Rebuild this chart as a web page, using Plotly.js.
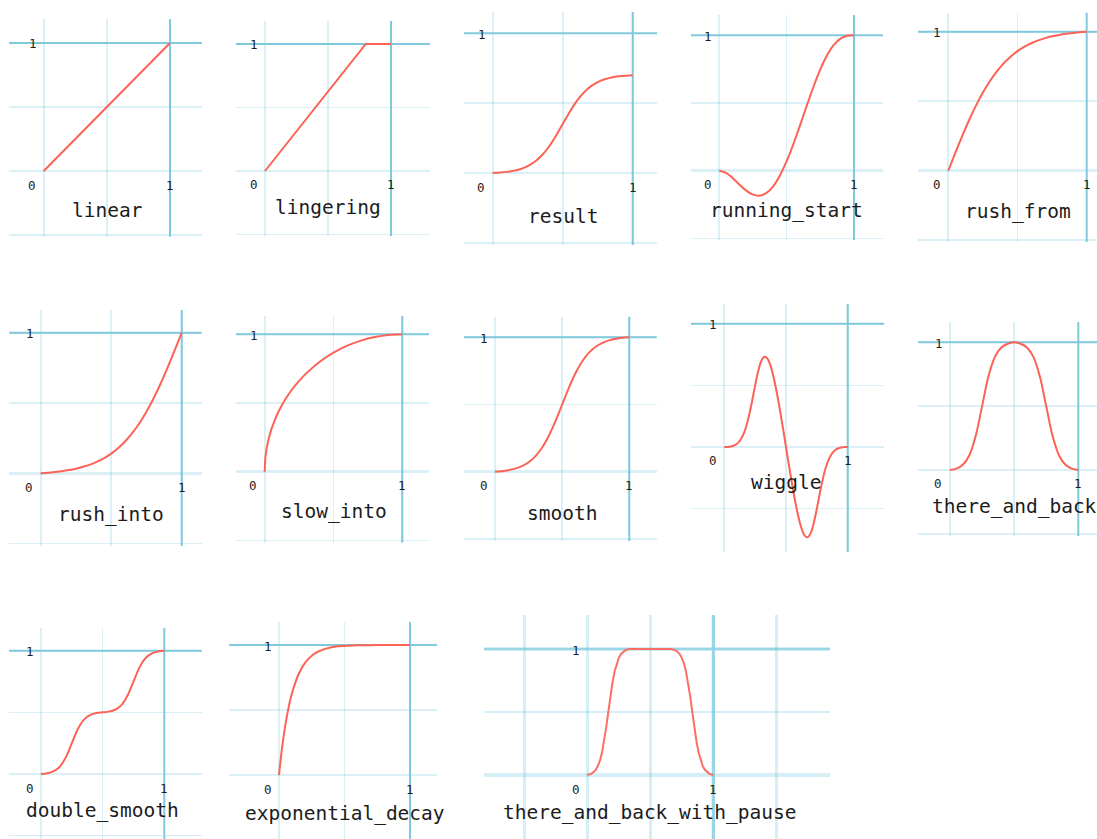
<!DOCTYPE html>
<html><head><meta charset="utf-8">
<script src="https://cdn.plot.ly/plotly-3.0.1.min.js"></script>
<style>html,body{margin:0;padding:0;background:#fff;overflow:hidden}#chart{width:1097px;height:839px}</style>
</head><body><div id="chart"></div>
<script>
// ---------- data ----------
const panelNames = ["linear","lingering","result","running_start","rush_from",
  "rush_into","slow_into","smooth","wiggle","there_and_back",
  "double_smooth","exponential_decay","there_and_back_with_pause"];

const t21 = [0,0.05,0.1,0.15,0.2,0.25,0.3,0.35,0.4,0.45,0.5,0.55,0.6,0.65,0.7,0.75,0.8,0.85,0.9,0.95,1];
const t41 = [0,0.025,0.05,0.075,0.1,0.125,0.15,0.175,0.2,0.225,0.25,0.275,0.3,0.325,0.35,0.375,0.4,0.425,0.45,0.475,0.5,
             0.525,0.55,0.575,0.6,0.625,0.65,0.675,0.7,0.725,0.75,0.775,0.8,0.825,0.85,0.875,0.9,0.925,0.95,0.975,1];

const linearX = [0,1];
const linearY = [0,1];
const lingeringX = [0,0.8,1];
const lingeringY = [0,1,1];
const resultY = [0,0.003,0.008,0.016,0.029,0.049,0.080,0.125,0.186,0.263,0.35,0.437,0.514,0.575,0.620,0.651,0.671,0.684,0.692,0.697,0.70];
const runningStartY = [0,-0.016,-0.055,-0.103,-0.147,-0.177,-0.184,-0.164,-0.115,-0.035,0.070,0.197,0.337,0.482,0.622,0.748,0.852,0.929,0.976,0.997,1];
const rushFromY = [0,0.126,0.248,0.363,0.468,0.562,0.644,0.713,0.772,0.820,0.860,0.892,0.917,0.938,0.954,0.967,0.977,0.985,0.991,0.996,1];
const rushIntoY = [0,0.004,0.009,0.015,0.023,0.033,0.046,0.062,0.083,0.108,0.140,0.180,0.228,0.287,0.356,0.438,0.532,0.637,0.752,0.874,1];
const slowIntoX = [0,0.005,0.01,0.02,0.04,0.06,0.1,0.15,0.2,0.25,0.3,0.4,0.5,0.6,0.7,0.8,0.9,1];
const slowIntoY = [0,0.100,0.141,0.199,0.280,0.341,0.436,0.527,0.600,0.661,0.714,0.800,0.866,0.917,0.954,0.980,0.995,1];
const smoothY = [0,0.004,0.011,0.023,0.041,0.070,0.114,0.178,0.266,0.376,0.5,0.624,0.734,0.822,0.886,0.930,0.959,0.977,0.989,0.996,1];
const wiggleY = [0,0.0007,0.0035,0.0104,0.024,0.0496,0.092,0.1587,0.253,0.3713,0.5,0.6164,0.698,0.7323,0.717,0.6575,0.564,0.4436,0.306,0.1557,0,
                 -0.1557,-0.306,-0.4436,-0.564,-0.6575,-0.717,-0.7323,-0.698,-0.6164,-0.5,-0.3713,-0.253,-0.1587,-0.092,-0.0496,-0.024,-0.0104,-0.0035,-0.0007,0];
const thereAndBackY = [0,0.011,0.041,0.114,0.266,0.5,0.734,0.886,0.959,0.989,1,0.989,0.959,0.886,0.734,0.5,0.266,0.114,0.041,0.011,0];
const doubleSmoothY = [0,0.006,0.021,0.057,0.133,0.25,0.367,0.443,0.479,0.494,0.5,0.506,0.521,0.557,0.633,0.75,0.867,0.943,0.979,0.994,1];
const expDecayX = [0,0.01,0.02,0.03,0.05,0.075,0.1,0.15,0.2,0.25,0.3,0.4,0.5,0.6,0.7,0.8,0.9,1];
const expDecayY = [0,0.095,0.181,0.259,0.393,0.528,0.632,0.777,0.865,0.918,0.950,0.982,0.993,0.9975,0.999,0.9997,0.9999,1];
const pauseX = [0,0.0167,0.0333,0.05,0.0667,0.0833,0.1,0.1167,0.1333,0.15,0.1667,0.1833,0.2,0.2167,0.2333,0.25,0.2667,0.2833,0.3,0.3167,0.3333,
                0.6667,0.6833,0.7,0.7167,0.7333,0.75,0.7667,0.7833,0.8,0.8167,0.8333,0.85,0.8667,0.8833,0.9,0.9167,0.9333,0.95,0.9667,0.9833,1];
const pauseY = [0,0.004,0.011,0.023,0.041,0.070,0.114,0.178,0.266,0.376,0.5,0.624,0.734,0.822,0.886,0.930,0.959,0.977,0.989,0.996,1,
                1,0.996,0.989,0.977,0.959,0.930,0.886,0.822,0.734,0.624,0.5,0.376,0.266,0.178,0.114,0.070,0.041,0.023,0.011,0.004,0];

const seriesX = [linearX, lingeringX, t21, t21, t21, t21, slowIntoX, t21, t41, t21, t21, expDecayX, pauseX];
const seriesY = [linearY, lingeringY, resultY, runningStartY, rushFromY, rushIntoY, slowIntoY, smoothY, wiggleY, thereAndBackY, doubleSmoothY, expDecayY, pauseY];
const axisTickText = ["0","1","1"];

// ---------- layout geometry (pixels) ----------
const W = 1097, H = 839;
const geom = [
 {L:9,R:202,T:19,B:236.5,x0:43.7,x1:170,y0:171,y1:43,ty:39,shape:'linear'},
 {L:236,R:430,T:21,B:236,x0:265,x1:391,y0:171,y1:44,ty:37,shape:'linear'},
 {L:464,R:657,T:12,B:245,x0:492.7,x1:632.7,y0:173,y1:33.3,ty:43.5,shape:'spline'},
 {L:691,R:883,T:15,B:240,x0:719.3,x1:854,y0:170.7,y1:35.3,ty:39.5,shape:'spline'},
 {L:918,R:1097,T:12.7,B:242,x0:948.3,x1:1086.7,y0:170.7,y1:31.7,ty:41,shape:'spline'},
 {L:9.3,R:201.7,T:310,B:546,x0:40.7,x1:181.7,y0:473.3,y1:332.7,ty:41.5,shape:'spline'},
 {L:236,R:429,T:316,B:542.5,x0:264.7,x1:402.3,y0:471.7,y1:334.3,ty:40,shape:'spline'},
 {L:464,R:656.7,T:316.7,B:541,x0:495,x1:629.3,y0:471.7,y1:337.3,ty:41.5,shape:'spline'},
 {L:691,R:884,T:304,B:552,x0:724.3,x1:847.7,y0:447,y1:323.7,ty:36,shape:'spline'},
 {L:918.3,R:1097,T:322,B:536,x0:950,x1:1078.3,y0:470,y1:342.3,ty:36.5,shape:'spline'},
 {L:9,R:201.7,T:628,B:839,x0:41,x1:164.3,y0:774,y1:650.7,ty:36.5,shape:'spline'},
 {L:229,R:437,T:622,B:839,x0:279,x1:410,y0:775,y1:645,ty:38,shape:'spline'},
 {L:484,R:830,T:615,B:839,x0:587.3,x1:713.3,y0:775,y1:649,ty:37.5,shape:'linear',big:true}
];

const FONT = "DejaVu Sans Mono";
const LIGHT = "rgba(120,198,222,0.27)";
const LIGHT_BIG = "rgba(120,198,222,0.30)";
const DARK = "#84cadc";
const RED = "#fc6255";

const traces = [], shapes = [], annotations = [];
const layout = {
  width: W, height: H, margin: {l:0,r:0,t:0,b:0},
  paper_bgcolor: "#ffffff", plot_bgcolor: "rgba(0,0,0,0)",
  showlegend: false, shapes: shapes, annotations: annotations
};

geom.forEach((g, i) => {
  const k = i === 0 ? "" : String(i + 1);
  const xa = "x" + k, ya = "y" + k;
  const ux = g.x1 - g.x0, uy = g.y0 - g.y1;
  const gw = g.big ? 2.6 : 1.6;
  const gc = g.big ? LIGHT_BIG : LIGHT;
  const common = {
    showticklabels: false, ticks: "", showline: false,
    showgrid: true, gridcolor: gc, gridwidth: gw,
    dtick: 0.5, tick0: 0, fixedrange: true
  };
  layout["xaxis" + k] = Object.assign({}, common, {
    domain: [g.L / W, Math.min(1, g.R / W)],
    range: [(g.L - g.x0) / ux, (g.R - g.x0) / ux],
    anchor: ya, zeroline: true, zerolinecolor: gc, zerolinewidth: gw + 0.4
  });
  layout["yaxis" + k] = Object.assign({}, common, {
    domain: [Math.max(0, 1 - g.B / H), 1 - g.T / H],
    range: [(g.y0 - g.B) / uy, (g.y0 - g.T) / uy],
    anchor: xa, zeroline: true, zerolinecolor: gc, zerolinewidth: gw + 1.2
  });
  const dk = g.big ? "#a6dbe9" : DARK;
  const dw = g.big ? 3.2 : 2;
  shapes.push({type:"line", xref: xa, yref: ya + " domain", x0:1, x1:1, y0:0, y1:1, line:{color: dk, width: dw}, layer:"below"});
  shapes.push({type:"line", xref: xa + " domain", yref: ya, x0:0, x1:1, y0:1, y1:1, line:{color: dk, width: dw}, layer:"below"});

  traces.push({
    type: "scatter", mode: "lines", x: seriesX[i], y: seriesY[i],
    xaxis: xa, yaxis: ya, hoverinfo: "skip",
    line: {color: g.big ? "#fb6f64" : RED, width: 2, shape: g.shape, smoothing: 1}
  });

  const tf = {family: FONT, size: 12.5, color: "#1e1e1e"};
  annotations.push({xref: xa, yref: ya, x: 0, y: 0, text: axisTickText[0], showarrow: false,
    xanchor: "center", yanchor: "middle", xshift: -11.5, yshift: -14, font: tf});
  annotations.push({xref: xa, yref: ya, x: 1, y: 0, text: axisTickText[1], showarrow: false,
    xanchor: "center", yanchor: "middle", yshift: -14, font: tf});
  annotations.push({xref: xa, yref: ya, x: 0, y: 1, text: axisTickText[2], showarrow: false,
    xanchor: "center", yanchor: "middle", xshift: -11, yshift: -1, font: tf});
  annotations.push({xref: xa, yref: ya, x: 0.5, y: 0, text: panelNames[i], showarrow: false,
    xanchor: "center", yanchor: "middle", yshift: -g.ty,
    font: {family: FONT, size: 19.5, color: "#1c1c1c"}});
});

Plotly.newPlot("chart", traces, layout, {displayModeBar: false, staticPlot: true});
</script>
</body></html>
